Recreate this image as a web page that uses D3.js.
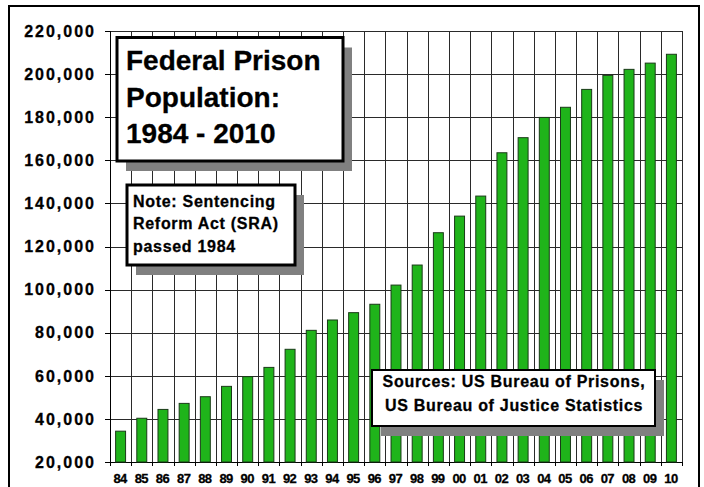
<!DOCTYPE html>
<html>
<head>
<meta charset="utf-8">
<script src="https://cdn.jsdelivr.net/npm/d3@7"></script>
<style>
  html, body { margin: 0; padding: 0; background: #fff; }
  svg { display: block; }
  text { font-family: "Liberation Sans", Arial, sans-serif; font-weight: bold; fill: #000; stroke: #000; stroke-width: 0.3px; }
</style>
</head>
<body>
<svg id="chart" width="704" height="487"></svg>
<script>
// ---- data ----
const years = ["84","85","86","87","88","89","90","91","92","93","94","95","96","97","98","99","00","01","02","03","04","05","06","07","08","09","10"];
const population = [34300,40300,44400,47200,50300,55100,59600,63900,72300,81100,85900,89300,93200,102100,111400,126400,134100,143400,163500,170500,179900,184600,192900,199400,202200,205100,209200];
const yTicks = [20000,40000,60000,80000,100000,120000,140000,160000,180000,200000,220000];
const titleLines = ["Federal Prison","Population:","1984 - 2010"];
const noteLines = ["Note: Sentencing","Reform Act (SRA)","passed 1984"];
const sourceLines = ["Sources: US Bureau of Prisons,","US Bureau of Justice Statistics"];

const svg = d3.select("#chart");
const L = 110, R = 682, T = 31, B = 462;

const y = d3.scaleLinear().domain([20000, 220000]).range([B, T]);
const xGrid = d3.scaleBand().domain(years).range([L, R]).padding(0);
const xBar = d3.scaleBand().domain(years).range([L, R]).paddingInner(0.53).paddingOuter(0.265);

// outer frame
svg.append("rect").attr("x", 9).attr("y", 6).attr("width", 690).attr("height", 500)
  .attr("fill", "none").attr("stroke", "#000").attr("stroke-width", 2);

const g = svg.append("g").attr("shape-rendering", "crispEdges");

// horizontal gridlines
g.selectAll(".hg").data(yTicks).join("line")
  .attr("x1", L).attr("x2", R)
  .attr("y1", d => Math.round(y(d)) + 0.5).attr("y2", d => Math.round(y(d)) + 0.5)
  .attr("stroke", "#2a2a2a").attr("stroke-width", 1);

// vertical gridlines (band boundaries)
const bounds = years.map(d => xGrid(d)).concat([R]);
g.selectAll(".vg").data(bounds).join("line")
  .attr("x1", d => Math.round(d) + 0.5).attr("x2", d => Math.round(d) + 0.5)
  .attr("y1", T).attr("y2", B)
  .attr("stroke", "#2a2a2a").attr("stroke-width", 1);

// x tick marks below axis
g.selectAll(".xt").data(bounds).join("line")
  .attr("x1", d => Math.round(d) + 0.5).attr("x2", d => Math.round(d) + 0.5)
  .attr("y1", B).attr("y2", B + 4)
  .attr("stroke", "#000");

// y tick marks
g.selectAll(".yt").data(yTicks).join("line")
  .attr("x1", L - 5).attr("x2", L)
  .attr("y1", d => Math.round(y(d)) + 0.5).attr("y2", d => Math.round(y(d)) + 0.5)
  .attr("stroke", "#000");

// bars
svg.append("g").selectAll("rect").data(population).join("rect")
  .attr("x", (d, i) => xBar(years[i]))
  .attr("y", d => y(d))
  .attr("width", xBar.bandwidth())
  .attr("height", d => B - y(d))
  .attr("fill", "#1fb41a")
  .attr("stroke", "#1a3a18").attr("stroke-width", 1);

// axes lines
g.append("line").attr("x1", L + 0.5).attr("x2", L + 0.5).attr("y1", T).attr("y2", B + 4).attr("stroke", "#000");
g.append("line").attr("x1", L).attr("x2", R + 1).attr("y1", B + 0.5).attr("y2", B + 0.5).attr("stroke", "#000");

// y labels
const fmt = d3.format(",");
svg.append("g").selectAll("text").data(yTicks).join("text")
  .attr("x", 96).attr("y", d => y(d)).attr("dy", "0.36em")
  .attr("text-anchor", "end")
  .style("font-size", "16px").style("letter-spacing", "2px")
  .text(d => fmt(d));

// x labels
svg.append("g").selectAll("text").data(years).join("text")
  .attr("x", d => xGrid(d) + xGrid.bandwidth() / 2 - 0.5).attr("y", 483)
  .attr("text-anchor", "middle")
  .style("font-size", "13px").style("letter-spacing", "-0.6px")
  .text(d => d);

// boxes with shadows
function box(x, yy, w, h, sw, lines, opts) {
  const gg = svg.append("g");
  gg.append("rect").attr("x", x + 9).attr("y", yy + 10).attr("width", w).attr("height", h).attr("fill", "#808080");
  gg.append("rect").attr("x", x).attr("y", yy).attr("width", w).attr("height", h)
    .attr("fill", "#fff").attr("stroke", "#000").attr("stroke-width", sw);
  gg.selectAll("text").data(lines).join("text")
    .attr("x", opts.tx).attr("y", (d, i) => opts.by + i * opts.lh)
    .attr("text-anchor", opts.anchor || "start")
    .style("font-size", opts.fs + "px").style("letter-spacing", (opts.ls || 0) + "px")
    .text(d => d);
}

box(117, 37.5, 226, 123.5, 3, titleLines, { tx: 126, by: 70, lh: 36.5, fs: 28 });
box(127, 185, 168, 80, 3, noteLines, { tx: 133, by: 207, lh: 22.3, fs: 16, ls: 0.7 });
box(372, 370, 283, 56, 2, sourceLines, { tx: 514, by: 387, lh: 23.5, fs: 16, ls: 0.7, anchor: "middle" });
</script>
</body>
</html>
